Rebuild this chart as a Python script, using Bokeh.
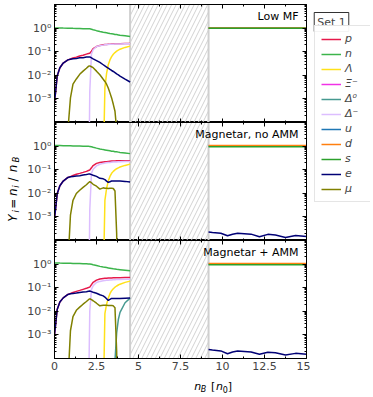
from math import pi
from bokeh.plotting import figure
from bokeh.layouts import column, row
from bokeh.models import (Range1d, LogAxis, LinearAxis, FixedTicker, CustomJSTickFormatter,
                          Label, Legend, LegendItem)
from bokeh.embed import file_html
from bokeh.resources import INLINE

# ---------------- data ----------------
Z = 1e-8  # species absent

nb_had = [0.0, 0.06, 0.16, 0.32, 0.52, 0.8, 0.95, 1.1, 1.3, 1.5, 1.7, 1.9, 2.02, 2.1, 2.2, 2.3,
          2.5, 2.7, 2.9, 3.0, 3.1, 3.2, 3.3, 3.4, 3.5, 3.6, 3.7, 3.8, 3.9, 4.2, 4.5]

# Low MF
lowmf_p = [8e-4, 1.8e-3, 9.3e-3, 0.021, 0.033, 0.045, 0.049, 0.054, 0.059, 0.066, 0.071, 0.079, 0.084, 0.086,
           0.105, 0.135, 0.165, 0.182, 0.195, 0.2, 0.203, 0.206, 0.209, 0.211, 0.213, 0.215, 0.216, 0.218,
           0.219, 0.222, 0.224]
lowmf_n = [1.02, 1.02, 1.01, 1.01, 1.0, 0.99, 0.99, 0.98, 0.97, 0.96, 0.95, 0.94, 0.935, 0.93, 0.89, 0.85,
           0.78, 0.72, 0.67, 0.65, 0.63, 0.61, 0.59, 0.575, 0.56, 0.54, 0.53, 0.515, 0.5, 0.47, 0.44]
lowmf_lam = [Z, Z, Z, Z, Z, Z, Z, Z, Z, Z, Z, Z, Z, Z, Z, Z, Z, Z, 1e-6, 3e-3, 0.012, 0.028, 0.045, 0.062,
             0.078, 0.092, 0.105, 0.117, 0.128, 0.152, 0.172]
lowmf_dm = [Z, Z, Z, Z, Z, Z, Z, Z, Z, Z, Z, Z, Z, 2e-3, 0.08, 0.12, 0.165, 0.18, 0.19, 0.195, 0.2, 0.202,
            0.205, 0.207, 0.209, 0.21, 0.211, 0.212, 0.213, 0.215, 0.216]
lowmf_e = [8e-4, 1.8e-3, 9.3e-3, 0.021, 0.033, 0.045, 0.048, 0.05, 0.052, 0.055, 0.056, 0.059, 0.06, 0.06,
           0.055, 0.05, 0.042, 0.035, 0.028, 0.025, 0.0224, 0.02, 0.018, 0.016, 0.0145, 0.013, 0.0115,
           0.0105, 0.0093, 0.0069, 0.0052]
lowmf_mu = [Z, Z, Z, Z, Z, 5e-5, 1.1e-3, 4.2e-3, 7e-3, 0.011, 0.015, 0.02, 0.024, 0.025, 0.023, 0.021,
            0.015, 0.0105, 0.0068, 0.0055, 0.0042, 0.0029, 0.0018, 0.0011, 5.9e-4, 3e-4, 5e-5, Z, Z, Z, Z]

# Magnetar, no AMM
noamm_p = [9e-4, 2e-3, 9.5e-3, 0.021, 0.033, 0.047, 0.051, 0.057, 0.064, 0.07, 0.077, 0.085, 0.093, 0.097,
           0.12, 0.15, 0.185, 0.2, 0.21, 0.215, 0.22, 0.225, 0.23, 0.232, 0.234, 0.236, 0.237, 0.238, 0.239,
           0.24, 0.24]
noamm_n = [1.06, 1.06, 1.05, 1.05, 1.04, 1.03, 1.03, 1.02, 1.01, 1.0, 0.99, 0.98, 0.975, 0.97, 0.93, 0.89,
           0.82, 0.76, 0.71, 0.69, 0.67, 0.65, 0.63, 0.61, 0.6, 0.58, 0.57, 0.555, 0.54, 0.51, 0.48]
noamm_lam = [Z, Z, Z, Z, Z, Z, Z, Z, Z, Z, Z, Z, Z, Z, Z, Z, Z, Z, 1e-6, 5e-3, 0.016, 0.033, 0.052, 0.07,
             0.085, 0.098, 0.11, 0.12, 0.13, 0.152, 0.172]
noamm_dm = [Z, Z, Z, Z, Z, Z, Z, Z, Z, Z, Z, Z, Z, 2e-3, 0.07, 0.105, 0.145, 0.17, 0.185, 0.19, 0.195, 0.2,
            0.204, 0.207, 0.21, 0.212, 0.214, 0.216, 0.218, 0.221, 0.224]
noamm_e = [9e-4, 2e-3, 9.5e-3, 0.021, 0.033, 0.047, 0.05, 0.052, 0.054, 0.056, 0.059, 0.062, 0.065, 0.066,
           0.062, 0.058, 0.052, 0.043, 0.041, 0.038, 0.033, 0.029, 0.031, 0.033, 0.033, 0.033, 0.033, 0.033,
           0.033, 0.032, 0.030]
noamm_mu = [Z, Z, Z, Z, Z, 1e-5, 1.2e-3, 5e-3, 0.0098, 0.0135, 0.0178, 0.023, 0.028, 0.031, 0.028, 0.024,
            0.02, 0.015, 0.017, 0.0165, 0.0165, 0.016, 0.0165, 0.0165, 0.016, 0.0125, 2e-4, Z, Z, Z, Z]

# Magnetar + AMM
amm_p = [1e-3, 2.5e-3, 0.012, 0.025, 0.037, 0.052, 0.057, 0.063, 0.07, 0.077, 0.085, 0.094, 0.102, 0.106,
         0.135, 0.17, 0.21, 0.235, 0.245, 0.25, 0.253, 0.256, 0.258, 0.26, 0.262, 0.263, 0.264, 0.265, 0.266,
         0.268, 0.27]
amm_n = [1.12, 1.12, 1.11, 1.1, 1.09, 1.08, 1.08, 1.07, 1.06, 1.05, 1.04, 1.03, 1.02, 1.02, 0.98, 0.94,
         0.87, 0.8, 0.75, 0.73, 0.71, 0.69, 0.67, 0.65, 0.63, 0.62, 0.6, 0.59, 0.58, 0.55, 0.52]
amm_lam = [Z, Z, Z, Z, Z, Z, Z, Z, Z, Z, Z, Z, Z, Z, Z, Z, Z, Z, 1e-6, 8e-3, 0.02, 0.036, 0.056, 0.075,
           0.09, 0.105, 0.118, 0.13, 0.141, 0.168, 0.19]
amm_d0 = [Z, Z, Z, Z, Z, Z, Z, Z, Z, Z, Z, Z, Z, Z, Z, Z, Z, Z, Z, Z, Z, Z, Z, Z, Z, 8e-5, 1.2e-3, 4.5e-3,
          9e-3, 0.023, 0.036]
amm_dm = [Z, Z, Z, Z, Z, Z, Z, Z, Z, Z, Z, Z, 1e-6, 0.01, 0.085, 0.12, 0.165, 0.185, 0.195, 0.2, 0.205,
          0.208, 0.211, 0.214, 0.216, 0.218, 0.22, 0.222, 0.224, 0.227, 0.23]
amm_e = [1e-3, 2.5e-3, 0.012, 0.025, 0.037, 0.052, 0.055, 0.057, 0.059, 0.062, 0.065, 0.068, 0.071, 0.072,
         0.068, 0.064, 0.058, 0.05, 0.045, 0.04, 0.034, 0.029, 0.032, 0.035, 0.035, 0.035, 0.035, 0.035,
         0.035, 0.036, 0.037]
amm_mu = [Z, Z, Z, Z, Z, 1e-5, 1.5e-3, 6e-3, 0.011, 0.015, 0.02, 0.026, 0.031, 0.034, 0.031, 0.028, 0.022,
          0.017, 0.018, 0.018, 0.018, 0.0175, 0.0175, 0.0175, 0.017, 0.014, 2e-4, Z, Z, Z, Z]

# quark phase
nb_quark = [9.17, 15.0]
lowmf_u = [1.0, 1.0]
lowmf_d = [1.02, 1.02]
lowmf_s = [0.98, 0.98]
mag_u = [1.0, 1.0]
mag_d = [1.05, 1.05]
mag_s = [0.95, 0.95]
nb_qe = [9.17, 9.4, 9.9, 10.3, 10.6, 10.9, 11.7, 12.2, 12.7, 13.15, 13.75, 14.35, 15.0]
noamm_e_q = [2.3e-4, 2.2e-4, 2.04e-4, 1.58e-4, 1.85e-4, 2.04e-4, 1.86e-4, 1.45e-4, 1.82e-4, 1.7e-4,
             1.35e-4, 1.62e-4, 1.48e-4]
amm_e_q = [2.4e-4, 2.3e-4, 2.1e-4, 1.6e-4, 1.9e-4, 2.1e-4, 1.9e-4, 1.5e-4, 1.85e-4, 1.75e-4, 1.4e-4,
           1.65e-4, 1.5e-4]

# mixed-phase gap (hatched)
gap_lo = 4.5
gap_hi = 9.17

panel_titles = ["Low MF", "Magnetar, no AMM", "Magnetar + AMM"]
species = ["p", "n", "\u039b", "\u039e\u207b", "\u0394\u2070", "\u0394\u207b", "u", "d", "s", "e", "\u03bc"]
colors = {"p": "#e6194b", "n": "#3cb44b", "lam": "#ffe119", "xi": "#f032e6", "d0": "#469990",
          "dm": "#dcbeff", "u": "#1f77b4", "d": "#ff7f0e", "s": "#2ca02c", "e": "#000075", "mu": "#808000"}
color_list = [colors[k] for k in ["p", "n", "lam", "xi", "d0", "dm", "u", "d", "s", "e", "mu"]]

x_major = [0, 2.5, 5, 7.5, 10, 12.5, 15]
x_minor = [1.25, 3.75, 6.25, 8.75, 11.25, 13.75]
y_major = [1e-3, 1e-2, 1e-1, 1.0]
y_minor = [m * 10.0 ** k for k in range(-4, 1) for m in range(2, 10)]

FONT = "DejaVu Sans"
FW, FH = 252, 118
YLW = 22           # width of y-label strip
BL, BR = 32, 4
TOP = 4
XTB = 16           # room for x tick labels
XLH = 22           # x-label strip height
TOTAL_H = TOP + 3 * FH + XTB + XLH
LEGW = 60
MAIN_W = YLW + BL + FW + BR

sup_code = r"""
const sup = {"-": "\u207b", "0": "\u2070", "1": "\u00b9", "2": "\u00b2", "3": "\u00b3", "4": "\u2074"};
const e = Math.round(Math.log10(tick));
return "10" + String(e).split("").map(c => sup[c]).join("");
"""
blank_code = "return '';"
xnum_code = "return String(tick);"


def style_axis(ax, show):
    ax.axis_line_color = "black"
    ax.major_tick_in = 4
    ax.major_tick_out = 0
    ax.minor_tick_in = 2
    ax.minor_tick_out = 0
    ax.major_tick_line_color = "black"
    ax.minor_tick_line_color = "black"
    if show:
        ax.major_label_text_font = FONT
        ax.major_label_text_font_size = "11px"
        ax.major_label_standoff = 3
    else:
        ax.major_label_text_font_size = "0px"
        ax.major_label_standoff = 0


def bare_fig(w, h):
    f = figure(width=w, height=h, x_range=Range1d(0, 1), y_range=Range1d(0, 1), output_backend="svg",
               toolbar_location=None, min_border=0, x_axis_location=None, y_axis_location=None)
    f.outline_line_color = None
    f.xgrid.visible = False
    f.ygrid.visible = False
    return f


def make_panel(height, btop, bbottom, show_x):
    p = figure(width=BL + FW + BR, height=height, x_range=Range1d(0, 15), y_range=Range1d(1e-4, 10),
               y_axis_type="log", output_backend="svg", toolbar_location=None,
               min_border_left=BL, min_border_right=BR, min_border_top=btop, min_border_bottom=bbottom,
               x_axis_location=None, y_axis_location=None)
    p.xgrid.visible = False
    p.ygrid.visible = False
    p.outline_line_color = "black"
    yt = FixedTicker(ticks=y_major, minor_ticks=y_minor)
    xt = FixedTicker(ticks=x_major, minor_ticks=x_minor)
    left = LogAxis(ticker=yt, formatter=CustomJSTickFormatter(code=sup_code))
    right = LogAxis(ticker=yt, formatter=CustomJSTickFormatter(code=blank_code))
    bottom = LinearAxis(ticker=xt, formatter=CustomJSTickFormatter(code=xnum_code if show_x else blank_code))
    top = LinearAxis(ticker=xt, formatter=CustomJSTickFormatter(code=blank_code))
    style_axis(left, True)
    style_axis(right, False)
    style_axis(bottom, show_x)
    style_axis(top, False)
    p.add_layout(left, "left")
    p.add_layout(right, "right")
    p.add_layout(bottom, "below")
    p.add_layout(top, "above")
    # hatched gap
    p.quad(left=[gap_lo], right=[gap_hi], bottom=[1e-6], top=[1e3], fill_color=None,
           line_color="#cfcfcf", line_width=2, hatch_pattern="/", hatch_color="#d2d2d2",
           hatch_scale=9, hatch_weight=1)
    return p


def add_lines(p, had, quark, eq):
    for key in ["p", "n", "lam", "xi", "d0", "dm"]:
        if key in had:
            p.line(nb_had, had[key], color=colors[key], line_width=1.5)
    for key in ["u", "d", "s"]:
        p.line(nb_quark, quark[key], color=colors[key], line_width=1.5)
    p.line(nb_had, had["e"], color=colors["e"], line_width=1.5)
    if eq is not None:
        p.line(nb_qe, eq, color=colors["e"], line_width=1.5)
    p.line(nb_had, had["mu"], color=colors["mu"], line_width=1.5)


def add_title(p, text):
    p.add_layout(Label(x=FW - 8, y=FH - 5, x_units="screen", y_units="screen", text=text,
                       text_align="right", text_baseline="top", text_font=FONT,
                       text_font_size="11px", text_color="black"))


p1 = make_panel(TOP + FH, TOP, 0, False)
p2 = make_panel(FH, 0, 0, False)
p3 = make_panel(FH + XTB, 0, XTB, True)

add_lines(p1, {"p": lowmf_p, "n": lowmf_n, "lam": lowmf_lam, "dm": lowmf_dm, "e": lowmf_e, "mu": lowmf_mu},
          {"u": lowmf_u, "d": lowmf_d, "s": lowmf_s}, None)
add_lines(p2, {"p": noamm_p, "n": noamm_n, "lam": noamm_lam, "dm": noamm_dm, "e": noamm_e, "mu": noamm_mu},
          {"u": mag_u, "d": mag_d, "s": mag_s}, noamm_e_q)
add_lines(p3, {"p": amm_p, "n": amm_n, "lam": amm_lam, "d0": amm_d0, "dm": amm_dm, "e": amm_e,
               "mu": amm_mu}, {"u": mag_u, "d": mag_d, "s": mag_s}, amm_e_q)

for p, t in zip([p1, p2, p3], panel_titles):
    add_title(p, t)

# ---- y-axis label strip: Y_i = n_i/n_B (rotated, pieces centred) ----
py = bare_fig(YLW, TOTAL_H)
ylab = [("Y", 217.5, 12, "italic", 0), ("i", 210.8, 8.5, "italic", 3), ("=", 203.3, 12, "normal", 0),
        ("n", 191.7, 12, "italic", 0), ("i", 186.0, 8.5, "italic", 3), ("/", 179.0, 12, "normal", 0),
        ("n", 168.0, 12, "italic", 0), ("B", 159.0, 8.5, "italic", 3)]
for txt, page_y, fs, st, dx in ylab:
    py.add_layout(Label(x=12.5 + dx, y=TOTAL_H - page_y, x_units="screen", y_units="screen", text=txt,
                        angle=pi / 2, text_align="center", text_baseline="middle", text_font=FONT,
                        text_font_size=f"{fs}px", text_font_style=st, text_color="black"))

# ---- x-axis label strip: n_B [n_0] ----
px = bare_fig(BL + FW + BR, XLH)
x_off = YLW
xlab = [("n", 161.7, 11, "italic", 0), ("B", 168.3, 8, "italic", 3), ("[", 178.5, 11, "normal", 0),
        ("n", 183.5, 11, "italic", 0), ("0", 190.3, 8, "normal", 3), ("]", 195.3, 11, "normal", 0)]
for txt, page_x, fs, st, dy in xlab:
    px.add_layout(Label(x=page_x - x_off, y=10.3 - dy, x_units="screen", y_units="screen", text=txt,
                        text_align="left", text_baseline="alphabetic", text_font=FONT,
                        text_font_size=f"{fs}px", text_font_style=st, text_color="black"))

# ---- legend strip ----
pl = bare_fig(LEGW, TOTAL_H)
items = []
for lab, col in zip(species, color_list):
    r = pl.line([5, 6], [5, 6], color=col, line_width=1.5)
    items.append(LegendItem(label=lab, renderers=[r]))
leg = Legend(items=items, location=(314 - MAIN_W, TOTAL_H - 202), margin=0, padding=6, spacing=2,
             glyph_width=20, glyph_height=12, label_height=12, label_standoff=4,
             label_text_font=FONT, label_text_font_size="11px", label_text_font_style="italic",
             border_line_color="#cccccc", border_line_width=1, background_fill_color="white")
pl.add_layout(leg)
pl.add_layout(Label(x=331 - MAIN_W, y=TOTAL_H - 21.5, x_units="screen", y_units="screen",
                    text="Set 1", text_align="center", text_baseline="middle", text_font=FONT,
                    text_font_size="11px", border_line_color="black", border_line_alpha=0.8,
                    background_fill_color="white", padding=3))

layout = row(py, column(p1, p2, p3, px), pl)
open("out.html", "w", encoding="utf-8").write(file_html(layout, INLINE))
